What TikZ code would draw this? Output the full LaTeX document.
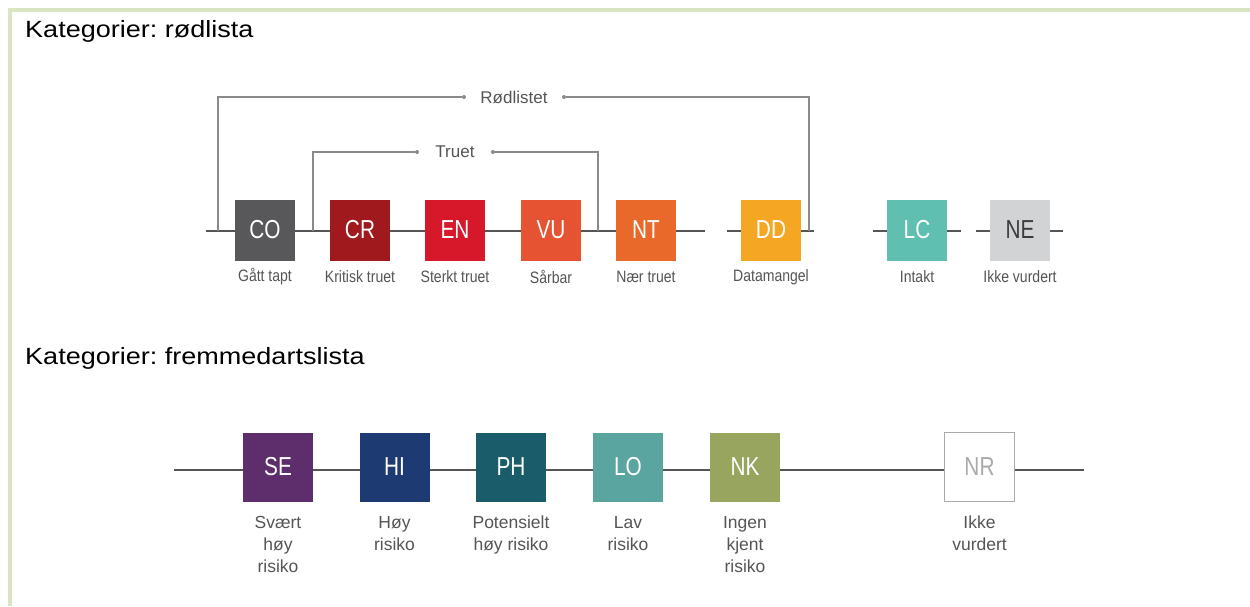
\documentclass[tikz,border=0pt]{standalone}
\usepackage{fontspec}
\setmainfont{Liberation Sans}
\newfontfamily\condfont[FakeStretch=0.85]{Liberation Sans}
\newfontfamily\boxfont[FakeStretch=0.8]{Liberation Sans}
\newfontfamily\titlefont[FakeStretch=1.15]{Liberation Sans}
\AtBeginDocument{\frenchspacing}
\definecolor{frame}{HTML}{D9E4C0}
\definecolor{ln}{HTML}{555555}
\definecolor{br}{HTML}{8A8A8A}
\definecolor{lbl}{HTML}{555555}
\definecolor{cCO}{HTML}{58585A}
\definecolor{cCR}{HTML}{A0191C}
\definecolor{cEN}{HTML}{D7182A}
\definecolor{cVU}{HTML}{E65332}
\definecolor{cNT}{HTML}{E8692A}
\definecolor{cDD}{HTML}{F5A623}
\definecolor{cLC}{HTML}{5FBFB0}
\definecolor{cNE}{HTML}{D1D3D4}
\definecolor{cNEt}{HTML}{3C3C3C}
\definecolor{cSE}{HTML}{5E2D6B}
\definecolor{cHI}{HTML}{1E3A72}
\definecolor{cPH}{HTML}{1B5C6B}
\definecolor{cLO}{HTML}{5AA5A0}
\definecolor{cNK}{HTML}{97A55E}
\definecolor{cNR}{HTML}{AAAAAA}
\begin{document}
\begin{tikzpicture}[x=1pt,y=-1pt,
  boxa/.style={minimum width=60pt,minimum height=61pt,inner sep=0pt,text=white,
    font=\boxfont\fontsize{26}{30}\selectfont},
  boxb/.style={minimum width=70pt,minimum height=69pt,inner sep=0pt,text=white,
    font=\boxfont\fontsize{26}{30}\selectfont},
  laba/.style={text=lbl,font=\condfont\fontsize{16.5}{18}\selectfont,inner sep=0pt},
  labb/.style={text=lbl,font=\fontsize{17.5}{22}\selectfont,align=center,anchor=north,inner sep=0pt},
  title/.style={anchor=west,font=\titlefont\fontsize{23.5}{28}\selectfont,inner sep=0pt},
  baseln/.style={draw=ln,line width=2pt},
  brk/.style={draw=br,line width=1.3pt},
  dotn/.style={circle,fill=br,inner sep=0pt,minimum size=4pt},
  brlab/.style={text=lbl,font=\fontsize{17}{20}\selectfont,inner sep=0pt}]
\useasboundingbox (0,0) rectangle (1250,606);
% frame
\fill[frame] (8,8) rectangle (1250,11.5);
\fill[frame] (8,8) rectangle (12,606);
% titles
\node[title] (t1) at (25,31) {Kategorier: rødlista};
\node[title] (t2) at (25,358) {Kategorier: fremmedartslista};
% row 1 boxes
\node[boxa,fill=cCO] (CO) at (265,230) {CO};
\node[boxa,fill=cCR] (CR) at (360,230) {CR};
\node[boxa,fill=cEN] (EN) at (455,230) {EN};
\node[boxa,fill=cVU] (VU) at (551,230) {VU};
\node[boxa,fill=cNT] (NT) at (646,230) {NT};
\node[boxa,fill=cDD] (DD) at (771,230) {DD};
\node[boxa,fill=cLC] (LC) at (917,230) {LC};
\node[boxa,fill=cNE,text=cNEt] (NE) at (1020,230) {NE};
% row 1 labels
\node[laba] (lCO) at (265,277) {Gått tapt};
\node[laba] (lCR) at (360,277) {Kritisk truet};
\node[laba] (lEN) at (455,277) {Sterkt truet};
\node[laba] (lVU) at (551,277) {Sårbar};
\node[laba] (lNT) at (646,277) {Nær truet};
\node[laba] (lDD) at (771,277) {Datamangel};
\node[laba] (lLC) at (917,277) {Intakt};
\node[laba] (lNE) at (1020,277) {Ikke vurdert};
% row 1 baseline segments
\coordinate (a0) at (206,231);
\coordinate (a1) at (705,231);
\coordinate (d0) at (727,231);
\coordinate (d1) at (814,231);
\coordinate (l0) at (873,231);
\coordinate (l1) at (961,231);
\coordinate (n0) at (976,231);
\coordinate (n1) at (1063,231);
\draw[baseln] (a0) -- (CO.west |- a0);
\draw[baseln] (CO.east |- a0) -- (CR.west |- a0);
\draw[baseln] (CR.east |- a0) -- (EN.west |- a0);
\draw[baseln] (EN.east |- a0) -- (VU.west |- a0);
\draw[baseln] (VU.east |- a0) -- (NT.west |- a0);
\draw[baseln] (NT.east |- a0) -- (a1);
\draw[baseln] (d0) -- (DD.west |- d0);
\draw[baseln] (DD.east |- d0) -- (d1);
\draw[baseln] (l0) -- (LC.west |- l0);
\draw[baseln] (LC.east |- l0) -- (l1);
\draw[baseln] (n0) -- (NE.west |- n0);
\draw[baseln] (NE.east |- n0) -- (n1);
% brackets
\coordinate (rl) at (218,231);
\coordinate (rr) at (809,231);
\node[dotn] (rd1) at (464,97) {};
\node[brlab] (RL) at (514,97) {Rødlistet};
\node[dotn] (rd2) at (564,97) {};
\draw[brk] (rl) |- (rd1);
\draw[brk] (rd2) -| (rr);
\coordinate (tl) at (313,231);
\coordinate (tr) at (598,231);
\node[dotn] (td1) at (417,152) {};
\node[brlab] (TR) at (455,152) {Truet};
\node[dotn] (td2) at (493,152) {};
\draw[brk] (tl) |- (td1);
\draw[brk] (td2) -| (tr);
% row 2
\coordinate (b0) at (174,470);
\coordinate (b1) at (1084,470);
\draw[baseln] (b0) -- (b1);
\node[boxb,fill=cSE] (SE) at (278,467) {SE};
\node[boxb,fill=cHI] (HI) at (394.5,467) {HI};
\node[boxb,fill=cPH] (PH) at (511,467) {PH};
\node[boxb,fill=cLO] (LO) at (628,467) {LO};
\node[boxb,fill=cNK] (NK) at (745,467) {NK};
\node[boxb,fill=white,draw=cNR,line width=1pt,text=cNR] (NR) at (979.5,467) {NR};
\node[labb] (lSE) at (278,516) {Svært\\høy\\risiko};
\node[labb] (lHI) at (394.5,516) {Høy\\risiko};
\node[labb] (lPH) at (511,516) {Potensielt\\høy risiko};
\node[labb] (lLO) at (628,516) {Lav\\risiko};
\node[labb] (lNK) at (745,516) {Ingen\\kjent\\risiko};
\node[labb] (lNR) at (979.5,516) {Ikke\\vurdert};
\end{tikzpicture}
\end{document}
